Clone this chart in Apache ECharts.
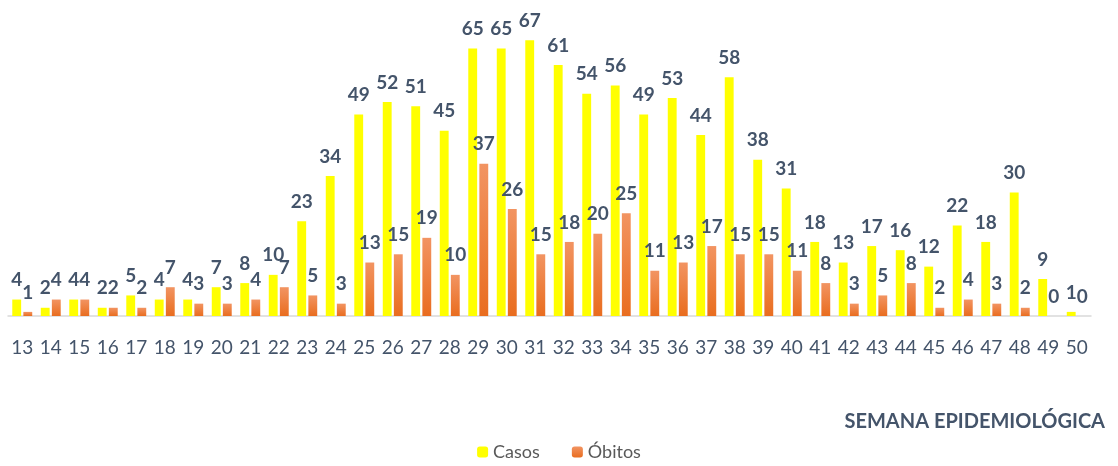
<!DOCTYPE html>
<html>
<head>
<meta charset="utf-8">
<script src="https://cdn.jsdelivr.net/npm/echarts@6/dist/echarts.min.js"></script>
<style>
  html, body { margin: 0; padding: 0; background: #fff; }
  #chart { width: 1118px; height: 466px; }
</style>
</head>
<body>
<div id="chart"></div>
<script>
const semanas = ['13','14','15','16','17','18','19','20','21','22','23','24','25','26','27','28','29','30','31','32','33','34','35','36','37','38','39','40','41','42','43','44','45','46','47','48','49','50'];
const casos = [4,2,4,2,5,4,4,7,8,10,23,34,49,52,51,45,65,65,67,61,54,56,49,53,44,58,38,31,18,13,17,16,12,22,18,30,9,1];
const obitos = [1,4,4,2,2,7,3,3,4,7,5,3,13,15,19,10,37,26,15,18,20,25,11,13,17,15,15,11,8,3,5,8,2,4,3,2,0,0];

const chart = echarts.init(document.getElementById('chart'));
const txt = '#44546a';
const fam = 'Lato, "Open Sans", sans-serif';

const label = {
  show: true,
  position: 'top',
  distance: 10,
  color: txt,
  fontWeight: 'bold',
  fontSize: 19,
  fontFamily: fam
};

chart.setOption({
  animation: false,
  textStyle: { fontFamily: fam },
  grid: { left: 8, right: 27, top: 28, bottom: 150 },
  title: {
    text: 'SEMANA EPIDEMIOLÓGICA',
    right: 8,
    top: 407,
    textStyle: { color: txt, fontSize: 20, fontWeight: 'bold', fontFamily: fam }
  },
  legend: {
    bottom: 0,
    left: 'center',
    itemWidth: 11,
    itemHeight: 11,
    itemGap: 32,
    textStyle: { color: '#595959', fontSize: 18, fontFamily: fam },
    data: ['Casos', 'Óbitos']
  },
  xAxis: {
    type: 'category',
    data: semanas,
    axisTick: { show: false },
    axisLine: { lineStyle: { color: '#d9d9d9', width: 1.5 } },
    axisLabel: { color: '#44546a', fontSize: 19, margin: 22, fontFamily: fam, interval: 0 }
  },
  yAxis: {
    type: 'value',
    min: 0,
    max: 70,
    show: false,
    splitLine: { show: false }
  },
  series: [
    {
      name: 'Casos',
      type: 'bar',
      data: casos,
      barGap: '25%',
      barCategoryGap: '30%',
      itemStyle: { color: '#ffff00' },
      label: label
    },
    {
      name: 'Óbitos',
      type: 'bar',
      data: obitos,
      itemStyle: {
        color: new echarts.graphic.LinearGradient(0, 0, 0, 1, [
          { offset: 0, color: '#f29462' },
          { offset: 1, color: '#e96d1f' }
        ])
      },
      label: label
    }
  ]
});
</script>
</body>
</html>
